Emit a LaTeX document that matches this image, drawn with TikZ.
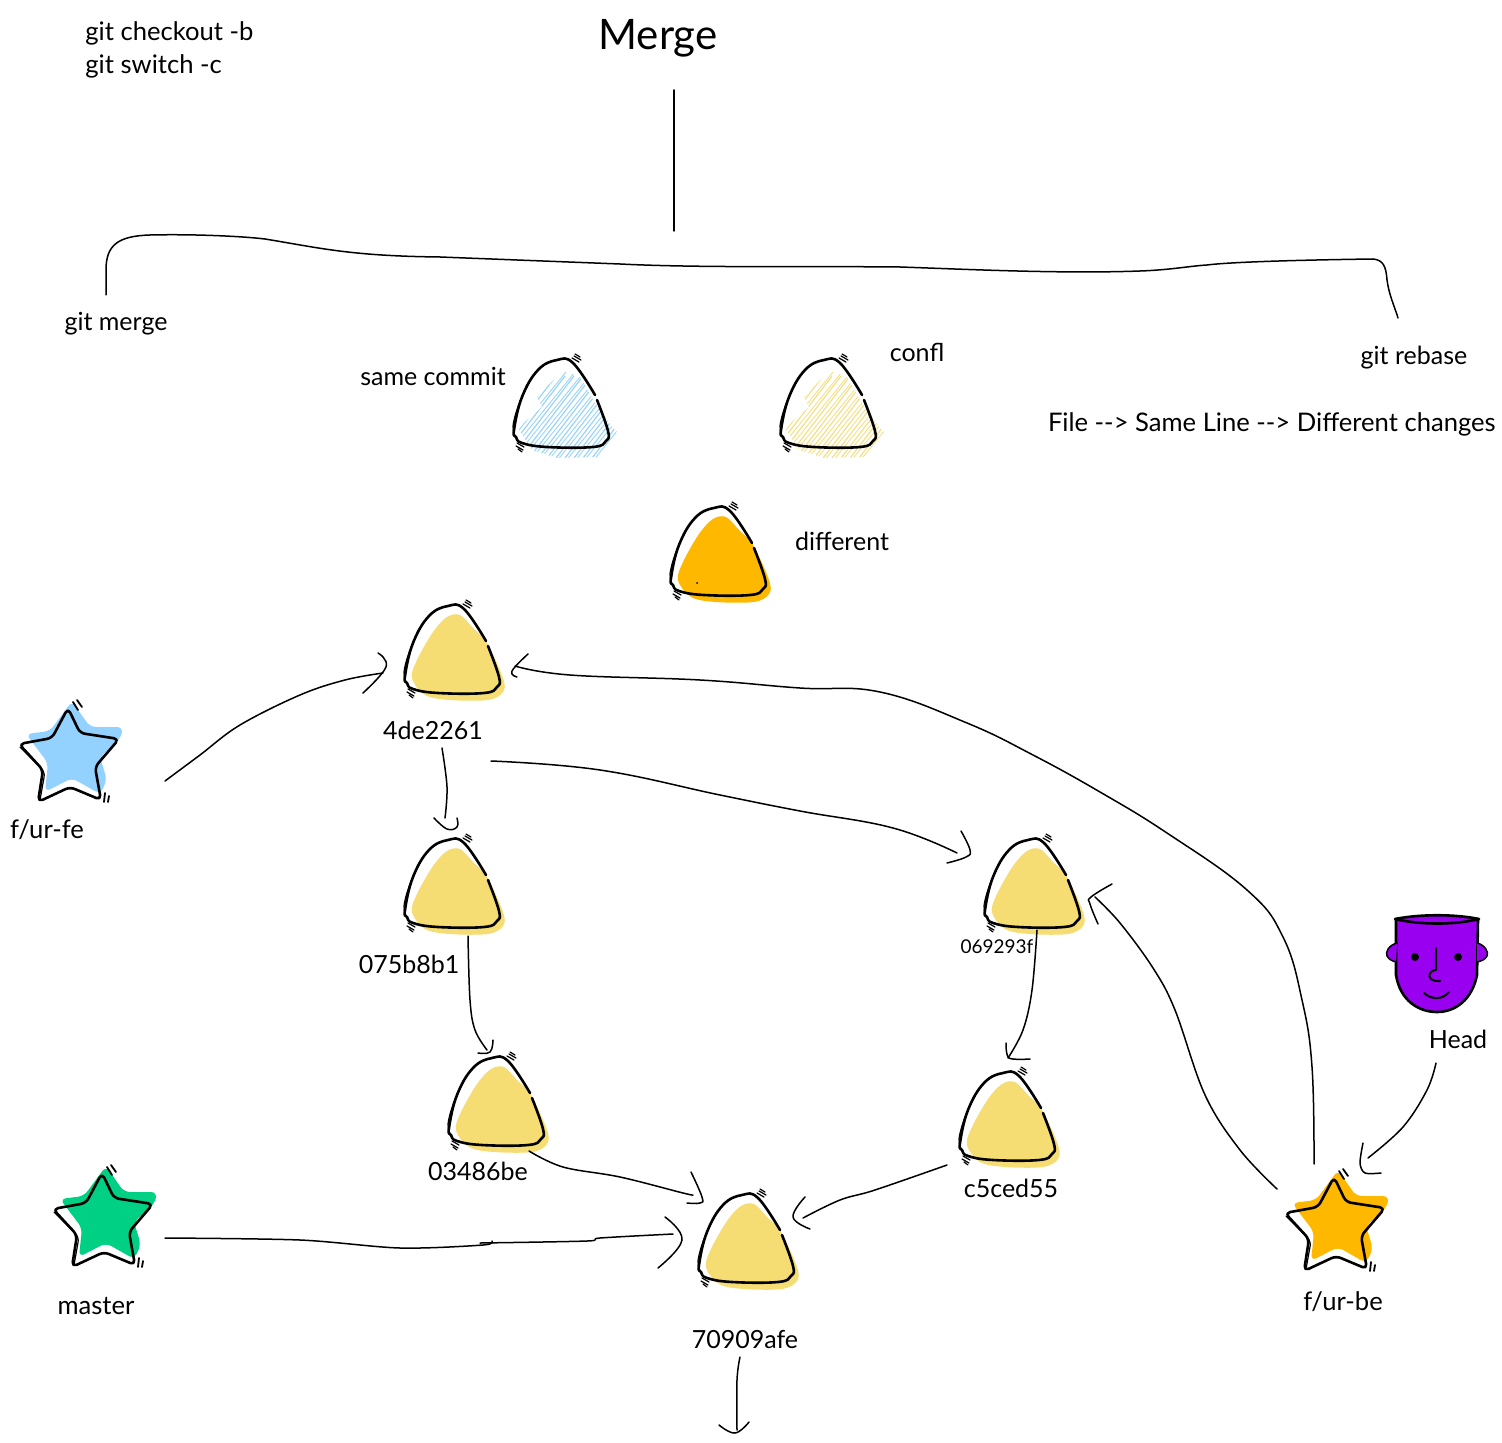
\documentclass[tikz,border=0pt]{standalone}
\usepackage{fontspec}
\setmainfont{Lato}
\definecolor{fillyellow}{HTML}{F5DC73}
\definecolor{fillorange}{HTML}{FFB800}
\definecolor{fillblue}{HTML}{93D2FF}
\definecolor{fillgreen}{HTML}{00D084}
\definecolor{fillpurple}{HTML}{9900EF}
\definecolor{hatchblue}{HTML}{9AD4F8}
\definecolor{hatchyellow}{HTML}{F5DF85}
\tikzset{
	lbl/.style={inner sep=0pt, font=\fontsize{12.5}{15}\selectfont},
	lblwide/.style={inner sep=0pt, font=\fontsize{12.8}{15}\selectfont},
	wire/.style={line width=0.75pt, line cap=round, line join=round},
	pen/.style={line width=1.3pt, line cap=round, line join=round},
	thin pen/.style={line width=0.6pt, line cap=round, line join=round},
	outline/.pic={
		\draw[pen] plot[smooth, tension=0.7] coordinates {(33,-9) (11,-41) (-5,-44) (-24,-34) (-40,-7) (-48,26) (-46,33) (-40,39) (-15,43) (31,43) (44,37) (46,27) (35,-4)};
		\draw[thin pen] plot[smooth, tension=0.6] coordinates {(-12,-42) (-26,-32) (-41,-5) (-49,22) (-45,35)};
		\draw[thin pen] (10,-46) -- (17,-42) (12,-48) -- (19,-44) (13,-50) -- (18,-47);
		\draw[thin pen] (-45,39) -- (-38,43) (-46,42) -- (-39,46) (-44,45) -- (-40,48);
	},
	commit/.pic={
		\fill[#1] plot[smooth cycle, tension=0.55] coordinates {(-6,-33) (7,-35) (20,-22) (34,-7) (50,28) (50,42) (35,50) (-3,50) (-28,45) (-41,28) (-36,10) (-20,-18)};
		\pic {outline};
	},
	hatched/.pic={
		\begin{scope}
			\clip (-25,-7) -- (1,-34) -- (18,-27) -- (33,-1) -- (50,23) -- (55,28) -- (40,53) -- (-5,54) -- (-30,46) -- (-44,24) -- (-20,3) -- cycle;
			\foreach \k in {-90,-81,...,30} {
				\draw[#1, line width=0.6pt] (\k,58) -- (\k+66,-28);
				\draw[#1, line width=0.45pt] (\k+3,58) -- (\k+76,-32);
			}
		\end{scope}
		\pic {outline};
	},
	star/.pic={
		\fill[#1, rounded corners=3pt] (4,-59) -- (22,-33) -- (55,-33) -- (53,-22) -- (32,-3) -- (39,20) -- (32,34) -- (4,18) -- (-23,32) -- (-20,3) -- (-42,-26) -- (-18,-29) -- cycle;
		\draw[pen, rounded corners=2.5pt] (0,-52) -- (12,-27) -- (51,-21) -- (27,7) -- (33,40) -- (2,27) -- (-30,42) -- (-25,10) -- (-49,-16) -- (-16,-22) -- cycle;
		\draw[thin pen, rounded corners=2.5pt] (-48,-13) -- (-23,12) -- (-28,40);
		\draw[pen, line width=0.9pt] (5,-58) -- (10,-50) (9,-60) -- (14,-53);
		\draw[pen, line width=0.9pt] (36,42) -- (37,33) (40,42) -- (41,36);
	}
}
\begin{document}
\begin{tikzpicture}[x=0.5pt, y=-0.5pt]
	\useasboundingbox (0,0) rectangle (1502,1443);

	% commits
	\coordinate (csame) at (562,404);
	\coordinate (cconfl) at (829,404);
	\coordinate (cdiff) at (719,552);
	\coordinate (c4de) at (453,650);
	\coordinate (c075) at (453,884);
	\coordinate (c034) at (497,1102);
	\coordinate (c709) at (747,1239);
	\coordinate (c069) at (1033,884);
	\coordinate (cc5c) at (1008,1117);

	\pic at (csame) {hatched=hatchblue};
	\pic at (cconfl) {hatched=hatchyellow};
	\pic at (cdiff) {commit=fillorange};
	\pic at (c4de) {commit=fillyellow};
	\pic at (c075) {commit=fillyellow};
	\pic at (c034) {commit=fillyellow};
	\pic at (c709) {commit=fillyellow};
	\pic at (c069) {commit=fillyellow};
	\pic at (cc5c) {commit=fillyellow};
	\fill (697,583) circle (0.5pt);

	% branches
	\coordinate (sfe) at (68,760);
	\coordinate (smaster) at (102,1225);
	\coordinate (sbe) at (1334,1229);
	\pic at (sfe) {star=fillblue};
	\pic at (smaster) {star=fillgreen};
	\pic at (sbe) {star=fillorange};

	% head
	\fill[fillpurple] (1396,918) -- (1478,918) -- (1477,975) .. controls (1472,1000) and (1455,1012) .. (1437,1012) .. controls (1418,1012) and (1400,1000) .. (1396,975) -- cycle;
	\draw[pen] (1396,919) -- (1396,975) .. controls (1400,1000) and (1418,1012) .. (1437,1012) .. controls (1455,1012) and (1472,1000) .. (1477,975) -- (1478,919);
	\draw[pen, fill=fillpurple] (1395,919) .. controls (1420,925) and (1455,925) .. (1479,919) .. controls (1455,914) and (1420,914) .. (1395,919);
	\draw[wire, fill=fillpurple] (1397,943) .. controls (1389,945) and (1385,952) .. (1387,956) .. controls (1389,960) and (1393,961) .. (1396,962);
	\draw[wire, fill=fillpurple] (1477,943) .. controls (1485,945) and (1489,952) .. (1487,956) .. controls (1485,960) and (1481,961) .. (1477,962);
	\fill (1415,957) circle (2pt) (1458,957) circle (2pt);
	\draw[pen, line width=1pt] (1436,948) -- (1436,970) .. controls (1428,970) and (1425,982) .. (1440,981);
	\draw[pen, line width=1pt] (1424,993) .. controls (1432,1000) and (1442,1000) .. (1449,992);

	% labels
	\node[lblwide, anchor=west] (tcheckout) at (85,33) {git checkout -b};
	\node[lblwide, anchor=west] (tswitch) at (85,66) {git switch -c};
	\node[lbl, font=\fontsize{21}{25}\selectfont] (tmerge) at (658,38) {Merge};
	\node[lbl] (tgitmerge) at (116,324) {git merge};
	\node[lbl] (tsame) at (433,376) {same commit};
	\node[lbl] (tconfl) at (917,352) {confl};
	\node[lbl] (trebase) at (1414,358) {git rebase};
	\node[lblwide, anchor=east] (tfile) at (1496,424) {File -{}-{}> Same Line -{}-{}> Different changes};
	\node[lbl] (tdiff) at (842,541) {different};
	\node[lbl] (t4de) at (433,730) {4de2261};
	\node[lblwide] (tfe) at (47,830) {f/ur-fe};
	\node[lbl] (t075) at (409,964) {075b8b1};
	\node[lbl, font=\fontsize{9.5}{12}\selectfont] (t069) at (997,947) {069293f};
	\node[lbl] (t034) at (478,1171) {03486be};
	\node[lbl] (tc5c) at (1011,1188) {c5ced55};
	\node[lbl] (thead) at (1458,1039) {Head};
	\node[lblwide] (tmaster) at (96,1306) {master};
	\node[lblwide] (tbe) at (1343,1302) {f/ur-be};
	\node[lbl] (t709) at (745,1339) {70909afe};

	% split
	\coordinate (mtop) at (674,90);
	\coordinate (mbot) at (674,231);
	\coordinate (bleft) at (106,295);
	\coordinate (bright) at (1398,318);
	\draw[wire] (mtop) -- (mbot);
	\draw[wire] (bleft) -- (106,270) .. controls (106,245) and (118,236) .. (150,235) .. controls (190,234) and (240,236) .. (265,239) .. controls (320,248) and (350,256) .. (440,257) -- (620,264) .. controls (700,268) and (800,266) .. (900,267) .. controls (960,269) and (1060,274) .. (1140,271) .. controls (1170,270) and (1190,266) .. (1207,265) .. controls (1230,262) and (1300,260) .. (1373,259) .. controls (1383,260) and (1386,266) .. (1387,280) .. controls (1389,295) and (1394,305) .. (bright);

	% arrows
	\coordinate (afe) at (165,781);
	\coordinate (a4dl) at (383,673);
	\draw[wire] plot[smooth, tension=0.6] coordinates {(afe) (200,755) (240,725) (300,695) (345,680) (a4dl)};
	\draw[wire] plot[smooth, tension=0.7] coordinates {(378,653) (386,667) (363,693)};

	\coordinate (abe) at (1314,1164);
	\coordinate (a4dr) at (515,666);
	\draw[wire] plot[smooth, tension=0.7] coordinates {(abe) (1312,1067) (1302,1000) (1283,937) (1247,890) (1167,833) (1100,792) (1033,755) (967,723) (880,692) (800,688) (700,680) (570,675) (a4dr)};
	\draw[wire] plot[smooth, tension=0.7] coordinates {(528,654) (512,671) (517,677)};

	\coordinate (a4db) at (442,748);
	\coordinate (a075) at (445,818);
	\draw[wire] plot[smooth, tension=0.6] coordinates {(a4db) (447,787) (a075)};
	\draw[wire] plot[smooth, tension=0.7] coordinates {(434,818) (447,829) (457,827) (457,818)};

	\coordinate (a4dc) at (491,761);
	\coordinate (a069) at (957,853);
	\draw[wire] plot[smooth, tension=0.7] coordinates {(a4dc) (600,770) (720,795) (800,811) (893,828) (a069)};
	\draw[wire] plot[smooth, tension=0.7] coordinates {(961,831) (970,850) (966,857) (947,863)};

	\coordinate (a075b) at (468,936);
	\coordinate (a034) at (487,1050);
	\draw[wire] plot[smooth, tension=0.6] coordinates {(a075b) (470,1000) (475,1030) (a034)};
	\draw[wire] plot[smooth, tension=0.7] coordinates {(478,1053) (490,1052) (493,1040)};

	\coordinate (a069b) at (1037,930);
	\coordinate (ac5c) at (1008,1058);
	\draw[wire] plot[smooth, tension=0.6] coordinates {(a069b) (1032,990) (1023,1030) (ac5c)};
	\draw[wire] plot[smooth, tension=0.5] coordinates {(1006,1043) (1009,1058) (1030,1059)};

	\coordinate (a034b) at (529,1151);
	\coordinate (a709a) at (693,1195);
	\draw[wire] plot[smooth, tension=0.6] coordinates {(a034b) (563,1167) (620,1177) (683,1193) (a709a)};
	\draw[wire] plot[smooth, tension=0.7] coordinates {(691,1172) (702,1197) (700,1203) (687,1203)};

	\coordinate (ac5b) at (947,1165);
	\coordinate (a709b) at (803,1218);
	\draw[wire] plot[smooth, tension=0.6] coordinates {(ac5b) (875,1190) (840,1200) (a709b)};
	\draw[wire] plot[smooth, tension=0.7] coordinates {(805,1197) (793,1217) (810,1229)};

	\coordinate (amaster) at (165,1238);
	\coordinate (a709c) at (673,1234);
	\draw[wire] plot[smooth, tension=0.5] coordinates {(amaster) (300,1240) (400,1248) (483,1245) (492,1241)};
	\draw[wire] plot[smooth, tension=0.5] coordinates {(480,1243) (587,1241) (600,1238) (a709c)};
	\draw[wire] plot[smooth, tension=0.7] coordinates {(665,1217) (682,1240) (658,1268)};

	\coordinate (abe2) at (1277,1189);
	\coordinate (a069r) at (1095,897);
	\draw[wire] plot[smooth, tension=0.6] coordinates {(abe2) (1240,1150) (1205,1095) (1175,1010) (1153,968) (1120,923) (a069r)};
	\draw[wire] plot[smooth, tension=0.7] coordinates {(1112,884) (1091,897) (1090,904) (1098,924)};

	\coordinate (ahead) at (1436,1063);
	\coordinate (abe3) at (1368,1158);
	\draw[wire] plot[smooth, tension=0.6] coordinates {(ahead) (1427,1090) (1403,1127) (abe3)};
	\draw[wire] plot[smooth, tension=0.5] coordinates {(1363,1143) (1360,1163) (1365,1173) (1381,1173)};

	\coordinate (a709d) at (740,1357);
	\coordinate (aend) at (737,1430);
	\draw[wire] plot[smooth, tension=0.6] coordinates {(a709d) (737,1380) (aend)};
	\draw[wire] plot[smooth, tension=0.7] coordinates {(719,1425) (735,1433) (749,1422)};
\end{tikzpicture}
\end{document}
